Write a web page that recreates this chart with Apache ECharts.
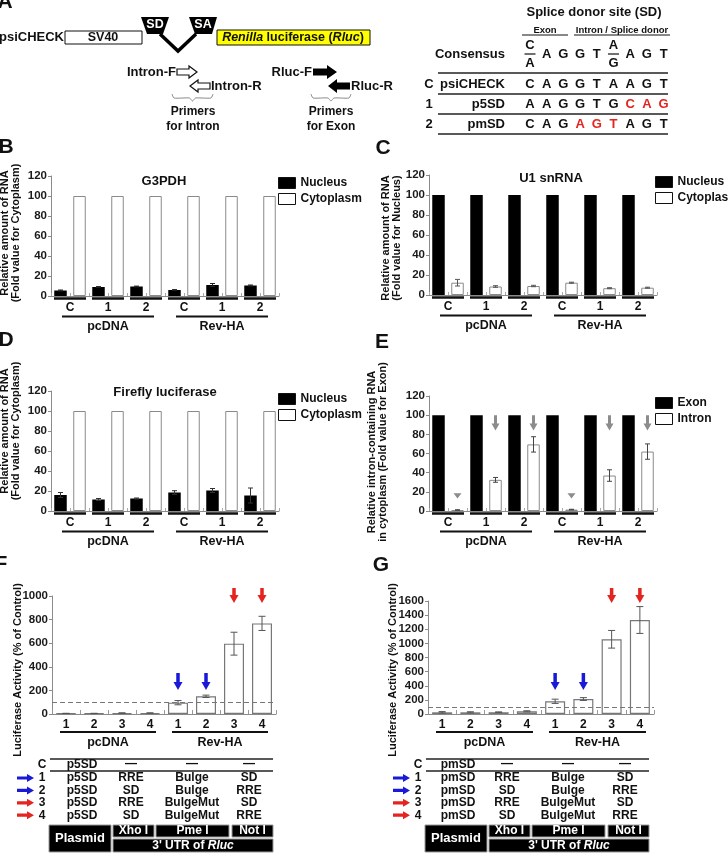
<!DOCTYPE html>
<html>
<head>
<meta charset="utf-8">
<script src="https://cdn.jsdelivr.net/npm/echarts@6/dist/echarts.min.js"></script>
<style>
html, body { margin: 0; padding: 0; background: #fff; }
#chart { width: 728px; height: 867px; }
</style>
</head>
<body>
<div id="chart"></div>
<script>
const FONT = 'Liberation Sans, Arial, sans-serif';

// ---- data ----
const fracCats = ['C', '1', '2', 'C', '1', '2'];
const lucCats = ['1', '2', '3', '4', '1', '2', '3', '4'];
const groupNames = ['pcDNA', 'Rev-HA'];

// B: G3PDH
const bNucleus = [5.5, 9, 9.5, 6, 11, 10.5];
const bNucleusErr = [0.5, 0.4, 0.4, 0.4, 1.5, 0.5];
const bCytoplasm = [100, 100, 100, 100, 100, 100];
// C: U1 snRNA
const cNucleus = [100, 100, 100, 100, 100, 100];
const cCytoplasm = [12.3, 8.5, 9, 12.3, 6.8, 7.3];
const cCytoplasmErr = [3.3, 0.8, 0.7, 0.5, 0.5, 0.5];
// D: Firefly luciferase
const dNucleus = [16, 11.5, 12.5, 18.5, 20.5, 15.5];
const dNucleusErr = [2.5, 1, 0.5, 1.8, 2, 7.5];
const dCytoplasm = [100, 100, 100, 100, 100, 100];
// E: intron-containing RNA
const eExon = [100, 100, 100, 100, 100, 100];
const eIntron = [1, 32.5, 69.5, 1.5, 37, 62];
const eIntronErr = [0.3, 2.5, 8, 0.3, 6, 8];
const eArrowTop = [18.5, 100, 100, 18.5, 100, 100];
const eArrowTip = [13, 84, 84, 13, 84, 84];
// F: p5SD luciferase activity
const fActivity = [5, 5, 8, 8, 96, 150, 596, 768];
const fErr = [1, 1, 2, 2, 18, 10, 97, 60];
const fArrowCats = [4, 5, 6, 7];
const fArrowTop = [347, 347, 1068, 1068];
const fArrowTip = [203, 203, 940, 940];
// G: pmSD luciferase activity
const gActivity = [24, 24, 25, 38, 180, 212, 1058, 1331];
const gErr = [10, 8, 5, 8, 30, 20, 125, 190];
const gArrowCats = [4, 5, 6, 7];
const gArrowTop = [581, 581, 1785, 1785];
const gArrowTip = [340, 340, 1572, 1572];
const controlLevel = 100;

// construct tables
const rowIds = ['1', '2', '3', '4'];
const xhoInserts = ['RRE', 'SD', 'RRE', 'SD'];
const pmeInserts = ['Bulge', 'Bulge', 'BulgeMut', 'BulgeMut'];
const notInserts = ['SD', 'RRE', 'SD', 'RRE'];

// splice donor sequences
const consensus = ['C/A', 'A', 'G', 'G', 'T', 'A/G', 'A', 'G', 'T'];
const seqIds = ['C', '1', '2'];
const seqNames = ['psiCHECK', 'p5SD', 'pmSD'];
const seqs = ['CAGGTAAGT', 'AAGGTGCAG', 'CAGAGTAGT'];
const seqMutated = [[], [6, 7, 8], [3, 4, 5]];

// ---- layout ----
const grids = [
    {left: 51, top: 176, width: 228, height: 120},  // B
    {left: 429, top: 175, width: 228, height: 120}, // C
    {left: 51, top: 391, width: 228, height: 120},  // D
    {left: 429, top: 396, width: 228, height: 115}, // E
    {left: 52, top: 596, width: 224, height: 118},  // F
    {left: 428, top: 601, width: 226, height: 113}  // G
];
const yMax = [120, 120, 120, 120, 1000, 1600];
const yStep = [20, 20, 20, 20, 200, 200];

const PAIR_W = 12.5, PAIR_GAP = 6.5;
const PAIR_OFF = (PAIR_W + PAIR_GAP) / 2;
const BLUE = '#1a1ad6', RED = '#e3241f';
const arrowColors = [BLUE, BLUE, RED, RED];

function t(x, y, text, o) {
    return {
        type: 'text', x: x, y: y, silent: true,
        style: Object.assign({
            text: text, fontFamily: FONT, fontWeight: 'bold', fontSize: 12,
            fill: '#111', align: 'center', verticalAlign: 'middle'
        }, o || {})
    };
}
function ln(x1, y1, x2, y2, w, c) {
    return {type: 'line', silent: true, shape: {x1: x1, y1: y1, x2: x2, y2: y2},
        style: {stroke: c || '#111', lineWidth: w || 1}};
}
function poly(points, fill, stroke) {
    return {type: 'polygon', silent: true, shape: {points: points},
        style: {fill: fill, stroke: stroke || null, lineWidth: 1.2}};
}

// ---- axes ----
const xAxes = [], yAxes = [];
grids.forEach(function (g, i) {
    const pair = i < 4;
    xAxes.push({
        type: 'category', gridIndex: i, position: 'bottom', data: pair ? fracCats : lucCats,
        axisLine: {lineStyle: {color: '#8a8a8a', width: 1}},
        axisTick: {show: !pair, inside: true, length: 4, lineStyle: {color: '#999'}},
        axisLabel: {interval: 0, margin: pair ? 6 : 5, color: '#111', fontFamily: FONT,
            fontWeight: 'bold', fontSize: 12},
        splitLine: {show: false}
    });
    yAxes.push({
        type: 'value', gridIndex: i, min: 0, max: yMax[i], interval: yStep[i],
        axisLine: {show: true, lineStyle: {color: '#8a8a8a', width: 1}},
        axisTick: {show: true, length: 3, lineStyle: {color: '#8a8a8a'}},
        axisLabel: {margin: 4, color: '#1a1a1a', fontFamily: FONT, fontWeight: 'bold', fontSize: 11.5,
            formatter: function (v) { return String(v); }},
        splitLine: {show: false}
    });
});
// thin tick axes for the paired panels (one tick per bar)
for (let i = 0; i < 4; i++) {
    xAxes.push({
        type: 'category', gridIndex: i, position: 'bottom', data: new Array(12).fill(''),
        axisLine: {show: false}, axisLabel: {show: false},
        axisTick: {show: true, inside: true, length: 3, lineStyle: {color: '#aaa'}},
        splitLine: {show: false}
    });
}

// ---- series helpers ----
function barPair(idx, nameA, dataA, nameB, dataB) {
    return [
        {type: 'bar', name: nameA, xAxisIndex: idx, yAxisIndex: idx, data: dataA,
            barWidth: PAIR_W, barGap: (PAIR_GAP / PAIR_W * 100) + '%',
            itemStyle: {color: '#000'}, silent: true},
        {type: 'bar', name: nameB, xAxisIndex: idx, yAxisIndex: idx, data: dataB,
            barWidth: PAIR_W, barGap: (PAIR_GAP / PAIR_W * 100) + '%',
            itemStyle: {color: '#fff', borderColor: '#8a8a8a', borderWidth: 1}, silent: true}
    ];
}
function errSeries(idx, values, errs, offset, color, capW) {
    return {
        type: 'custom', xAxisIndex: idx, yAxisIndex: idx, z: 5, silent: true,
        data: values.map(function (v, i) { return [i, v, errs[i]]; }),
        renderItem: function (params, api) {
            const i = api.value(0), v = api.value(1), e = api.value(2);
            const hi = api.coord([i, v + e]), lo = api.coord([i, Math.max(0, v - e)]);
            const x = hi[0] + offset, st = {stroke: color, lineWidth: 1};
            return {type: 'group', children: [
                {type: 'line', shape: {x1: x, y1: hi[1], x2: x, y2: lo[1]}, style: st},
                {type: 'line', shape: {x1: x - capW / 2, y1: hi[1], x2: x + capW / 2, y2: hi[1]}, style: st},
                {type: 'line', shape: {x1: x - capW / 2, y1: lo[1], x2: x + capW / 2, y2: lo[1]}, style: st}
            ]};
        }
    };
}
function arrowSeries(idx, cats, tops, tips, offset, colors, sw, hw, hl) {
    return {
        type: 'custom', xAxisIndex: idx, yAxisIndex: idx, z: 6, silent: true, clip: false,
        data: cats.map(function (c, i) { return [c, tops[i], tips[i], i]; }),
        renderItem: function (params, api) {
            const a = api.coord([api.value(0), api.value(1)]);
            const b = api.coord([api.value(0), api.value(2)]);
            const x = a[0] + offset, y0 = a[1], y1 = b[1];
            const h = Math.min(hl, y1 - y0), yh = y1 - h;
            const pts = [[x - sw / 2, y0], [x + sw / 2, y0], [x + sw / 2, yh], [x + hw / 2, yh],
                [x, y1], [x - hw / 2, yh], [x - sw / 2, yh]];
            return {type: 'polygon', shape: {points: pts},
                style: {fill: colors[api.value(3)] || colors[0]}};
        }
    };
}

const series = [].concat(
    barPair(0, 'Nucleus', bNucleus, 'Cytoplasm', bCytoplasm),
    [errSeries(0, bNucleus, bNucleusErr, -PAIR_OFF, '#222', 5)],
    barPair(1, 'Nucleus', cNucleus, 'Cytoplasm', cCytoplasm),
    [errSeries(1, cCytoplasm, cCytoplasmErr, PAIR_OFF, '#555', 5)],
    barPair(2, 'Nucleus', dNucleus, 'Cytoplasm', dCytoplasm),
    [errSeries(2, dNucleus, dNucleusErr, -PAIR_OFF, '#333', 5)],
    barPair(3, 'Exon', eExon, 'Intron', eIntron),
    [errSeries(3, eIntron, eIntronErr, PAIR_OFF, '#444', 5),
        arrowSeries(3, [0, 1, 2, 3, 4, 5], eArrowTop, eArrowTip, PAIR_OFF, ['#8c8c8c'], 3, 8, 7)],
    [{type: 'bar', name: 'p5SD activity', xAxisIndex: 4, yAxisIndex: 4, data: fActivity, barWidth: 20,
        silent: true, itemStyle: {color: '#fff', borderColor: '#777', borderWidth: 1.2},
        markLine: {silent: true, symbol: 'none', label: {show: false},
            lineStyle: {type: [5, 3], color: '#777', width: 1.2}, data: [{yAxis: controlLevel}]}},
     errSeries(4, fActivity, fErr, 0, '#555', 7),
     arrowSeries(4, fArrowCats, fArrowTop, fArrowTip, 0, arrowColors, 3.5, 9, 8)],
    [{type: 'bar', name: 'pmSD activity', xAxisIndex: 5, yAxisIndex: 5, data: gActivity, barWidth: 20,
        silent: true, itemStyle: {color: '#fff', borderColor: '#777', borderWidth: 1.2},
        markLine: {silent: true, symbol: 'none', label: {show: false},
            lineStyle: {type: [5, 3], color: '#777', width: 1.2}, data: [{yAxis: controlLevel}]}},
     errSeries(5, gActivity, gErr, 0, '#555', 7),
     arrowSeries(5, gArrowCats, gArrowTop, gArrowTip, 0, arrowColors, 3.5, 9, 8)]
);

// ---- decorations ----
const G = [];

// panel letters
[['A', 5, 2], ['B', 6, 147], ['C', 383, 148], ['D', 6, 340], ['E', 382, 342], ['F', 1, 564], ['G', 381, 565]]
    .forEach(function (p) { G.push(t(p[1], p[2], p[0], {fontSize: 21})); });

// titles of B/C/D
G.push(t(164, 181, 'G3PDH', {fontSize: 13}));
G.push(t(551, 178, 'U1 snRNA', {fontSize: 13}));
G.push(t(165, 392, 'Firefly luciferase', {fontSize: 13}));

// y axis titles
const rot = Math.PI / 2;
function yTitle(x, y, text) {
    const e = t(x, y, text, {fontSize: 11, lineHeight: 11});
    e.rotation = rot;
    return e;
}
G.push(yTitle(10, 233, 'Relative amount of RNA\n(Fold value for Cytoplasm)'));
G.push(yTitle(391, 238, 'Relative amount of RNA\n(Fold value for Nucleus)'));
G.push(yTitle(10, 431, 'Relative amount of RNA\n(Fold value for Cytoplasm)'));
G.push(yTitle(377, 452, 'Relative intron-containing RNA\nin cytoplasm (Fold value for Exon)'));
G.push(yTitle(18, 670, 'Luciferase Activity (% of Control)'));
G.push(yTitle(393, 670, 'Luciferase Activity (% of Control)'));

// group underlines below x axes
grids.forEach(function (g, i) {
    const pair = i < 4;
    const n = pair ? 6 : 8, per = n / 2, cw = g.width / n, base = g.top + g.height;
    if (pair) {
        for (let k = 0; k < n; k++) {
            G.push(ln(g.left + k * cw + 3, base + 2.5, g.left + (k + 1) * cw - 3, base + 2.5, 2.5));
        }
    }
    const inset = pair ? 11 : 8, yLine = base + (pair ? 20.5 : 18), yText = base + (pair ? 30.5 : 29);
    for (let k = 0; k < 2; k++) {
        const x0 = g.left + k * per * cw, x1 = x0 + per * cw;
        G.push(ln(x0 + inset, yLine, x1 - inset, yLine, 2));
        G.push(t((x0 + x1) / 2, yText, groupNames[k], {fontSize: 12.5}));
    }
});

// ---- panel A: construct diagram ----
G.push(t(64, 37.5, 'psiCHECK', {fontSize: 13, align: 'right'}));
G.push({type: 'rect', silent: true, shape: {x: 65, y: 31, width: 77, height: 13},
    style: {fill: '#fff', stroke: '#111', lineWidth: 1}});
G.push(t(103, 37.5, 'SV40', {fontSize: 12.5}));
G.push({type: 'polyline', silent: true, shape: {points: [[160, 34], [178, 51], [196, 34]]},
    style: {stroke: '#000', lineWidth: 3.5, fill: null}});
G.push(poly([[141, 17], [169, 17], [163, 34], [147, 34]], '#000'));
G.push(poly([[189, 17], [217, 17], [212, 34], [195, 34]], '#000'));
G.push(t(155, 25, 'SD', {fill: '#fff', fontSize: 12.5}));
G.push(t(203, 25, 'SA', {fill: '#fff', fontSize: 12.5}));
G.push({type: 'rect', silent: true, shape: {x: 217, y: 30, width: 153, height: 15},
    style: {fill: '#ffff00', stroke: '#111', lineWidth: 1}});
const it = {fontStyle: 'italic', fontWeight: 'bold', fontSize: 12.5, fontFamily: FONT, fill: '#111'};
G.push(t(293, 37.5, '{i|Renilla} luciferase ({i|Rluc})', {fontSize: 12.5, rich: {i: it}}));

// primers
G.push(t(176, 72, 'Intron-F', {fontSize: 13, align: 'right'}));
G.push(poly([[177, 69], [189, 69], [189, 66], [197, 72], [189, 78], [189, 75], [177, 75]], '#fff', '#111'));
G.push(poly([[210, 83], [198, 83], [198, 80], [190, 86], [198, 92], [198, 89], [210, 89]], '#fff', '#111'));
G.push(t(211, 86, 'Intron-R', {fontSize: 13, align: 'left'}));
G.push(t(312, 72, 'Rluc-F', {fontSize: 13, align: 'right'}));
G.push(poly([[313, 68.5], [327, 68.5], [327, 65], [337, 72], [327, 79], [327, 75.5], [313, 75.5]], '#000'));
G.push(poly([[350, 82.5], [337, 82.5], [337, 79], [328, 86], [337, 93], [337, 89.5], [350, 89.5]], '#000'));
G.push(t(351, 86, 'Rluc-R', {fontSize: 13, align: 'left'}));
function brace(x0, x1, y) {
    const m = (x0 + x1) / 2;
    return {type: 'polyline', silent: true,
        shape: {points: [[x0, y], [x0 + 2, y + 4], [m - 3, y + 4], [m, y + 7], [m + 3, y + 4], [x1 - 2, y + 4], [x1, y]], smooth: 0.2},
        style: {stroke: '#888', lineWidth: 1, fill: null}};
}
G.push(brace(172, 213, 94));
G.push(brace(311, 351, 94));
G.push(t(193, 112, 'Primers', {fontSize: 12}));
G.push(t(193, 127, 'for Intron', {fontSize: 12}));
G.push(t(331, 112, 'Primers', {fontSize: 12}));
G.push(t(331, 127, 'for Exon', {fontSize: 12}));

// ---- panel A: splice donor table ----
const SX0 = 530, SDX = 16.7;
G.push(t(594, 12, 'Splice donor site (SD)', {fontSize: 13}));
G.push(t(545, 30, 'Exon', {fontSize: 9.5}));
G.push(ln(522, 35, 568, 35, 1));
G.push(t(622, 30, 'Intron / Splice donor', {fontSize: 9.5}));
G.push(ln(574, 35, 670, 35, 1));
G.push(t(505, 54, 'Consensus', {fontSize: 13, align: 'right'}));
consensus.forEach(function (c, k) {
    const x = SX0 + k * SDX;
    if (c.indexOf('/') > 0) {
        const p = c.split('/');
        G.push(t(x, 45, p[0], {fontSize: 13}));
        G.push(ln(x - 5.5, 54, x + 5.5, 54, 1.2));
        G.push(t(x, 63, p[1], {fontSize: 13}));
    } else {
        G.push(t(x, 54, c, {fontSize: 13}));
    }
});
const rowY = [84, 104, 124];
[73, 94, 114, 134].forEach(function (y) { G.push(ln(438, y, 668, y, 1.3, '#222')); });
seqs.forEach(function (s, r) {
    G.push(t(429, rowY[r], seqIds[r], {fontSize: 13}));
    G.push(t(505, rowY[r], seqNames[r], {fontSize: 13, align: 'right'}));
    s.split('').forEach(function (ch, k) {
        const red = seqMutated[r].indexOf(k) >= 0;
        G.push(t(SX0 + k * SDX, rowY[r], ch, {fontSize: 13, fill: red ? '#e3241f' : '#111'}));
    });
});

// ---- F/G construct tables ----
function hArrow(x0, x1, y, color) {
    return poly([[x0, y - 1.6], [x1 - 7, y - 1.6], [x1 - 7, y - 4], [x1, y], [x1 - 7, y + 4], [x1 - 7, y + 1.6], [x0, y + 1.6]], color);
}
function constructTable(dx, plasmid) {
    const cols = [82, 131, 192, 249].map(function (c) { return c + dx; });
    G.push(ln(50 + dx, 759, 273 + dx, 759, 1.3, '#222'));
    G.push(ln(50 + dx, 771, 273 + dx, 771, 1.3, '#222'));
    G.push(t(42 + dx, 765, 'C'));
    G.push(t(cols[0], 765, plasmid));
    for (let c = 1; c < 4; c++) G.push(t(cols[c], 764, '\u2014'));
    rowIds.forEach(function (id, r) {
        const y = 778 + r * 12.4;
        G.push(hArrow(17 + dx, 34 + dx, y, arrowColors[r]));
        G.push(t(42 + dx, y, id));
        G.push(t(cols[0], y, plasmid));
        G.push(t(cols[1], y, xhoInserts[r]));
        G.push(t(cols[2], y, pmeInserts[r]));
        G.push(t(cols[3], y, notInserts[r]));
    });
    const box = function (x, y, w, h) {
        return {type: 'rect', silent: true, shape: {x: x + dx, y: y, width: w, height: h},
            style: {fill: '#000', stroke: '#9a9a9a', lineWidth: 1}};
    };
    G.push(box(49, 825, 62, 27));
    G.push(box(113, 825, 41, 12));
    G.push(box(156, 825, 73, 12));
    G.push(box(232, 825, 41, 12));
    G.push(box(113, 839, 160, 13));
    G.push(t(80 + dx, 838.5, 'Plasmid', {fill: '#fff', fontSize: 13}));
    G.push(t(133.5 + dx, 831, 'Xho I', {fill: '#fff', fontSize: 12}));
    G.push(t(192.5 + dx, 831, 'Pme I', {fill: '#fff', fontSize: 12}));
    G.push(t(252.5 + dx, 831, 'Not I', {fill: '#fff', fontSize: 12}));
    const wi = {fontStyle: 'italic', fontWeight: 'bold', fontSize: 12, fontFamily: FONT, fill: '#fff'};
    G.push(t(193 + dx, 845.5, "3' UTR of {i|Rluc}", {fill: '#fff', fontSize: 12, rich: {i: wi}}));
}
constructTable(0, 'p5SD');
constructTable(376, 'pmSD');

// ---- legends ----
const legendBase = {
    orient: 'vertical', padding: 0, itemWidth: 17, itemHeight: 11, itemGap: 4,
    icon: 'rect', selectedMode: false,
    itemStyle: {borderColor: '#111', borderWidth: 1},
    textStyle: {fontFamily: FONT, fontWeight: 'bold', fontSize: 12, color: '#111', lineHeight: 12}
};
const legends = [
    Object.assign({}, legendBase, {data: ['Nucleus', 'Cytoplasm'], left: 278, top: 177}),
    Object.assign({}, legendBase, {data: ['Nucleus', 'Cytoplasm'], left: 655, top: 176}),
    Object.assign({}, legendBase, {data: ['Nucleus', 'Cytoplasm'], left: 278, top: 393}),
    Object.assign({}, legendBase, {data: ['Exon', 'Intron'], left: 655, top: 397})
];

const chart = echarts.init(document.getElementById('chart'));
chart.setOption({
    animation: false,
    backgroundColor: '#fff',
    textStyle: {fontFamily: FONT},
    grid: grids.map(function (g) { return Object.assign({containLabel: false, outerBoundsMode: 'none'}, g); }),
    xAxis: xAxes,
    yAxis: yAxes,
    legend: legends,
    series: series,
    graphic: G
});
</script>
</body>
</html>
